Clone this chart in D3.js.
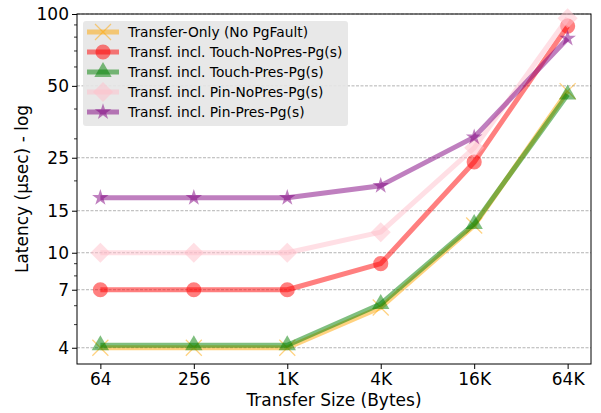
<!DOCTYPE html>
<html>
<head>
<meta charset="utf-8">
<script src="https://cdn.jsdelivr.net/npm/d3@7"></script>
<style>
  body { margin: 0; background: #fff; }
  text { font-family: "DejaVu Sans", sans-serif; fill: #000; }
</style>
</head>
<body>
<div id="chart"></div>
<script>
// data
var sizes = [64, 256, 1024, 4096, 16384, 65536];
var sizeLabels = ["64", "256", "1K", "4K", "16K", "64K"];
var transferOnly = [4.0, 4.0, 4.0, 5.9, 13.0, 47.5];
var touchNoPres = [7, 7, 7, 9.0, 24.0, 89];
var touchPres = [4.1, 4.1, 4.1, 6.1, 13.2, 46];
var pinNoPres = [10, 10, 10, 12.2, 27.5, 96];
var pinPres = [17, 17, 17, 19.1, 30.5, 79];
var seriesNames = ["Transfer-Only (No PgFault)", "Transf. incl. Touch-NoPres-Pg(s)",
  "Transf. incl. Touch-Pres-Pg(s)", "Transf. incl. Pin-NoPres-Pg(s)", "Transf. incl. Pin-Pres-Pg(s)"];
var seriesColors = ["orange", "red", "green", "pink", "purple"];
var seriesMarkers = ["x", "circle", "triangle", "diamond", "star"];
var yTicks = [4, 7, 10, 15, 25, 50, 100];
var yMinor = [5, 6, 8, 9, 20, 30, 40, 60, 70, 80, 90];

var allSeries = [transferOnly, touchNoPres, touchPres, pinNoPres, pinPres];

var W = 601, H = 413;
var plotLeft = 77, plotRight = 591, plotTop = 14, plotBottom = 364;

var svg = d3.select("#chart")
  .append("svg")
  .attr("width", W)
  .attr("height", H);

var x = d3.scaleLog().base(2)
  .domain([64 / Math.SQRT2, 65536 * Math.SQRT2])
  .range([plotLeft, plotRight]);

var y = d3.scaleLog()
  .domain([3.42, 100])
  .range([plotBottom, plotTop]);

// grid lines
svg.append("g")
  .selectAll("line")
  .data(yTicks)
  .enter()
  .append("line")
  .attr("x1", plotLeft)
  .attr("x2", plotRight)
  .attr("y1", (d) => y(d))
  .attr("y2", (d) => y(d))
  .style("stroke", "#a0a0a0")
  .style("stroke-width", 0.8)
  .style("stroke-dasharray", "3,1.5");

// axes
var xAxis = svg.append("g")
  .attr("transform", "translate(0," + plotBottom + ")")
  .call(d3.axisBottom(x).tickValues(sizes).tickFormat((d, i) => sizeLabels[i]).tickSize(5).tickSizeOuter(0));
xAxis.select(".domain").remove();
xAxis.selectAll("text").style("font-size", "17px").attr("dy", "0.78em");

var yAxis = svg.append("g")
  .attr("transform", "translate(" + plotLeft + ",0)")
  .call(d3.axisLeft(y).tickValues(yTicks).tickFormat(d3.format("d")).tickSize(5).tickSizeOuter(0));
yAxis.select(".domain").remove();
yAxis.selectAll("text").style("font-size", "17px").attr("x", -8);

svg.append("g")
  .attr("transform", "translate(" + plotLeft + ",0)")
  .selectAll("line")
  .data(yMinor)
  .enter()
  .append("line")
  .attr("x1", -3)
  .attr("x2", 0)
  .attr("y1", (d) => y(d))
  .attr("y2", (d) => y(d))
  .style("stroke", "#000")
  .style("stroke-width", 0.8);

// frame
svg.append("rect")
  .attr("x", plotLeft)
  .attr("y", plotTop)
  .attr("width", plotRight - plotLeft)
  .attr("height", plotBottom - plotTop)
  .style("fill", "none")
  .style("stroke", "#000")
  .style("stroke-width", 1);

// labels
svg.append("text")
  .attr("x", (plotLeft + plotRight) / 2)
  .attr("y", 406)
  .attr("text-anchor", "middle")
  .style("font-size", "17px")
  .text("Transfer Size (Bytes)");

svg.append("text")
  .attr("transform", "rotate(-90)")
  .attr("x", -(plotTop + plotBottom) / 2)
  .attr("y", 28)
  .attr("text-anchor", "middle")
  .style("font-size", "17px")
  .text("Latency (\u00b5sec) - log");

function markerPath(kind) {
  if (kind === "circle") return d3.symbol(d3.symbolCircle, 180)();
  if (kind === "triangle") return d3.symbol(d3.symbolTriangle, 130)();
  if (kind === "diamond") return d3.symbol(d3.symbolSquare, 200)();
  if (kind === "star") return d3.symbol(d3.symbolStar, 85)();
  return "M-8,-8L8,8M-8,8L8,-8";
}

function drawMarker(g, kind, color) {
  var p = g.append("path").attr("d", markerPath(kind));
  if (kind === "x") {
    p.style("fill", "none").style("stroke", color).style("stroke-width", 1.2);
  } else {
    p.style("fill", color).style("stroke", "none");
  }
  if (kind === "diamond") p.attr("transform", "rotate(45)");
  return p;
}

var line = d3.line()
  .x((d, i) => x(sizes[i]))
  .y((d) => y(d));

// series
allSeries.forEach(function (vals, s) {
  var g = svg.append("g");
  g.append("path")
    .datum(vals)
    .attr("d", line)
    .style("fill", "none")
    .style("stroke", seriesColors[s])
    .style("stroke-width", 5)
    .style("opacity", 0.5)
    .style("stroke-linejoin", "round");
  vals.forEach(function (v, i) {
    var m = g.append("g")
      .attr("transform", "translate(" + x(sizes[i]) + "," + y(v) + ")")
      .style("opacity", 0.5);
    drawMarker(m, seriesMarkers[s], seriesColors[s]);
  });
});

// legend
var legend = svg.append("g").attr("transform", "translate(83,21)");
legend.append("rect")
  .attr("width", 265)
  .attr("height", 105)
  .attr("rx", 3)
  .style("fill", "#e6e6e6")
  .style("opacity", 0.9);

seriesNames.forEach(function (name, s) {
  var row = legend.append("g").attr("transform", "translate(0," + (11 + s * 20) + ")");
  row.append("line")
    .attr("x1", 4)
    .attr("x2", 36)
    .style("stroke", seriesColors[s])
    .style("stroke-width", 5)
    .style("opacity", 0.5);
  var m = row.append("g").attr("transform", "translate(20,0)").style("opacity", 0.5);
  drawMarker(m, seriesMarkers[s], seriesColors[s]);
  row.append("text")
    .attr("x", 45)
    .attr("y", 0)
    .attr("dy", "0.35em")
    .style("font-size", "13.8px")
    .text(name);
});
</script>
</body>
</html>
